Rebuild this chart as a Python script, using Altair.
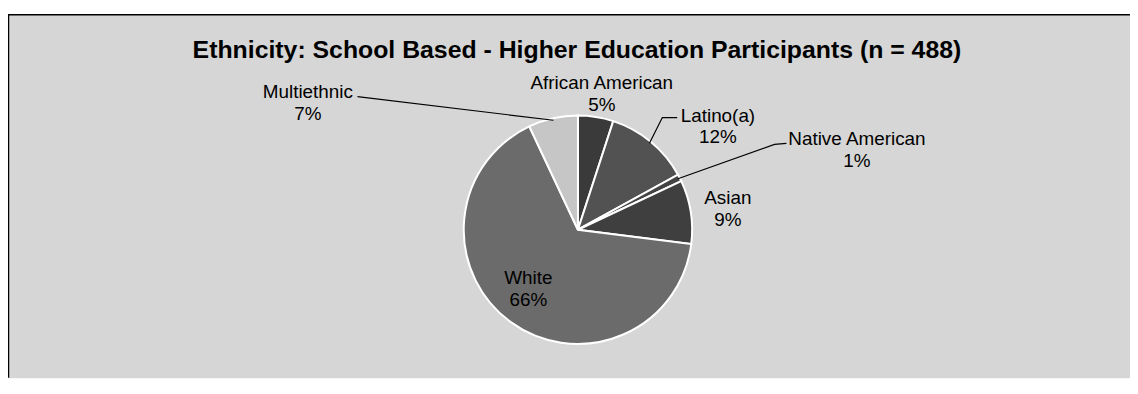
import math
import altair as alt
import pandas as pd

# ---- data ----
categories = ["African American", "Latino(a)", "Native American", "Asian", "White", "Multiethnic"]
percents = [5, 12, 1, 9, 66, 7]
slice_colors = ["#3a3a3a", "#525252", "#444444", "#3f3f3f", "#6b6b6b", "#c6c6c6"]
title_text = "Ethnicity: School Based - Higher Education Participants (n = 488)"

# ---- layout (pixels in the view) ----
W, H = 1130, 366
CX, CY, R = 574, 217, 115
FONT = "Liberation Sans"
label_offsets = {
    "African American": (24, -142),
    "Latino(a)": (141, -109),
    "Native American": (281, -85),
    "Asian": (151, -26),
    "White": (-50, 55),
    "Multiethnic": (-272, -133),
}
leader_bends = {
    "Multiethnic": [(-222, -134)],
    "Latino(a)": [(85, -113), (100, -113)],
    "Native American": [(198, -86), (210, -87)],
}

df = pd.DataFrame({"category": categories, "value": percents, "order": list(range(len(categories)))})

total = sum(percents)
mid_angle = {}
acc = 0
for c, v in zip(categories, percents):
    mid_angle[c] = (acc + v / 2) / total * 2 * math.pi
    acc += v

labels = pd.DataFrame({
    "label": [f"{c}\n{v}%" for c, v in zip(categories, percents)],
    "x": [CX + label_offsets[c][0] for c in categories],
    "y": [CY + label_offsets[c][1] for c in categories],
})

rows = []
for c, bends in leader_bends.items():
    a = mid_angle[c]
    rows.append({"category": c, "seq": 0, "x": CX + (R - 2) * math.sin(a), "y": CY - (R - 2) * math.cos(a)})
    for i, (dx, dy) in enumerate(bends):
        rows.append({"category": c, "seq": i + 1, "x": CX + dx, "y": CY + dy})
leaders = pd.DataFrame(rows)

one = pd.DataFrame({"k": [0]})

pie = alt.Chart(df).mark_arc(outerRadius=R, stroke="white", strokeWidth=2).encode(
    theta=alt.Theta("value:Q", stack=True),
    order=alt.Order("order:Q"),
    color=alt.Color("category:N", scale=alt.Scale(domain=categories, range=slice_colors), legend=None),
    x=alt.value(CX),
    y=alt.value(CY),
)

lines = alt.Chart(leaders).mark_line(color="black", strokeWidth=1.2).encode(
    x=alt.X("x:Q", scale=None),
    y=alt.Y("y:Q", scale=None),
    detail="category:N",
    order="seq:Q",
)

text = alt.Chart(labels).mark_text(
    font=FONT, fontSize=19, lineBreak="\n", lineHeight=22, align="center", baseline="alphabetic", color="black"
).encode(x=alt.X("x:Q", scale=None), y=alt.Y("y:Q", scale=None), text="label:N")

title = alt.Chart(one).mark_text(
    font=FONT, fontSize=25, fontWeight="bold", align="center", baseline="alphabetic", color="black"
).encode(x=alt.value(573), y=alt.value(44), text=alt.value(title_text))

left_border = alt.Chart(one).mark_rule(color="black", strokeWidth=1.5).encode(
    x=alt.value(0.5), y=alt.value(0), y2=alt.value(H)
)
top_border = alt.Chart(one).mark_rule(color="black", strokeWidth=1.5).encode(
    x=alt.value(0), x2=alt.value(W), y=alt.value(0.5)
)

chart = alt.layer(pie, lines, text, title, left_border, top_border).properties(
    width=W, height=H, autosize=alt.AutoSizeParams(type="none"),
    padding={"left": 0, "top": 5, "right": 0, "bottom": 0},
    background="white",
).configure_view(fill="#d6d6d6", stroke="transparent")

chart.save("out.html", embed_options={"renderer": "svg", "actions": False})
